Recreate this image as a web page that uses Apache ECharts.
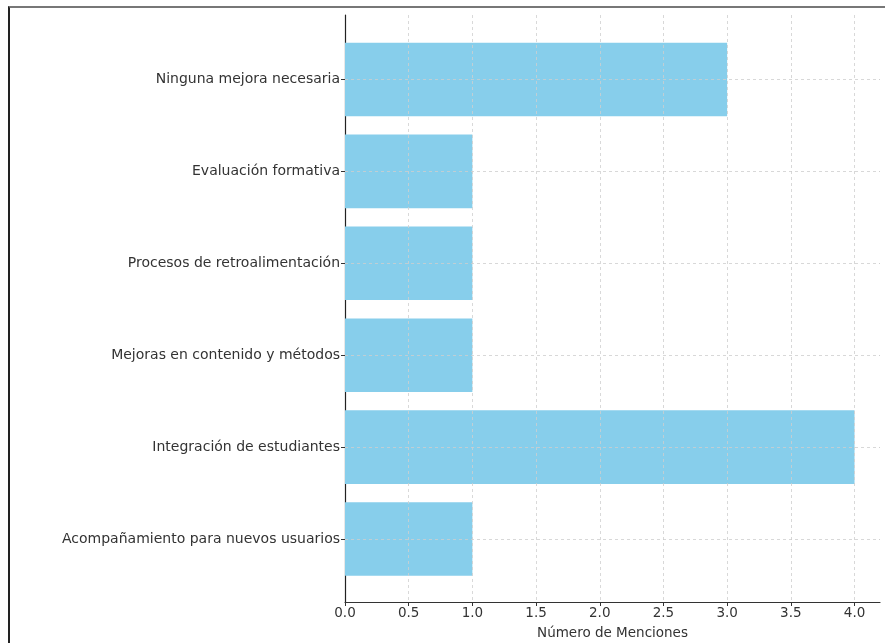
<!DOCTYPE html>
<html>
<head>
<meta charset="utf-8">
<script src="https://cdn.jsdelivr.net/npm/echarts@6/dist/echarts.min.js"></script>
<style>
html,body{margin:0;padding:0;background:#fff;}
#frame{position:absolute;left:8px;top:6px;width:900px;height:700px;border-left:2px solid #222;border-top:2px solid #777;box-sizing:border-box;}
#chart{position:absolute;left:0;top:0;width:885px;height:643px;}
</style>
</head>
<body>
<div id="frame"></div>
<div id="chart"></div>
<script>
const categories = [
  "Ninguna mejora necesaria",
  "Evaluación formativa",
  "Procesos de retroalimentación",
  "Mejoras en contenido y métodos",
  "Integración de estudiantes",
  "Acompañamiento para nuevos usuarios"
];
const menciones = [3, 1, 1, 1, 4, 1];
const xMin = 0, xMax = 4.2, xStep = 0.5;
const xTitle = "Número de Menciones";

const chart = echarts.init(document.getElementById('chart'));
const font = 'DejaVu Sans';
const dash = {color: '#cfcfcf', type: [3, 3], width: 0.8};

chart.setOption({
  animation: false,
  grid: [
    {left: 345, right: 5, top: 15, bottom: 41, outerBoundsMode: 'none', containLabel: false},
    {left: 345, right: 5, top: 33.5, bottom: 58, outerBoundsMode: 'none', containLabel: false}
  ],
  xAxis: [
    {gridIndex: 0, type: 'value', min: xMin, max: xMax, interval: xStep, z: 5,
     name: xTitle, nameLocation: 'middle', nameGap: 24,
     nameTextStyle: {fontFamily: font, fontSize: 13.5, color: '#333'},
     axisLine: {show: true, onZero: false, lineStyle: {color: '#333', width: 1.2}},
     axisTick: {show: true, length: 4, lineStyle: {color: '#333'}},
     axisLabel: {fontFamily: font, fontSize: 13.5, color: '#333', margin: 4, showMaxLabel: false,
       formatter: v => v.toFixed(1)},
     splitLine: {show: true, showMaxLine: false, showMinLine: false, lineStyle: dash}},
    {gridIndex: 1, type: 'value', min: xMin, max: xMax, show: false}
  ],
  yAxis: [
    {gridIndex: 0, type: 'value', min: 0, max: 1, inverse: true,
     axisLine: {show: true, onZero: false, lineStyle: {color: '#222', width: 1.2}},
     axisTick: {show: false}, axisLabel: {show: false}, splitLine: {show: false}},
    {gridIndex: 1, type: 'category', data: categories, inverse: true,
     axisLine: {show: false},
     axisTick: {show: true, alignWithLabel: true, length: 4, lineStyle: {color: '#333'}},
     axisLabel: {fontFamily: font, fontSize: 14, color: '#333', margin: 5},
     splitLine: {show: false}}
  ],
  series: [{
    type: 'bar', xAxisIndex: 1, yAxisIndex: 1, data: menciones,
    barCategoryGap: '20%',
    itemStyle: {color: '#87CEEB'},
    markLine: {
      silent: true, symbol: 'none', label: {show: false},
      lineStyle: dash,
      data: categories.map(c => ({yAxis: c}))
    }
  }]
});
</script>
</body>
</html>
